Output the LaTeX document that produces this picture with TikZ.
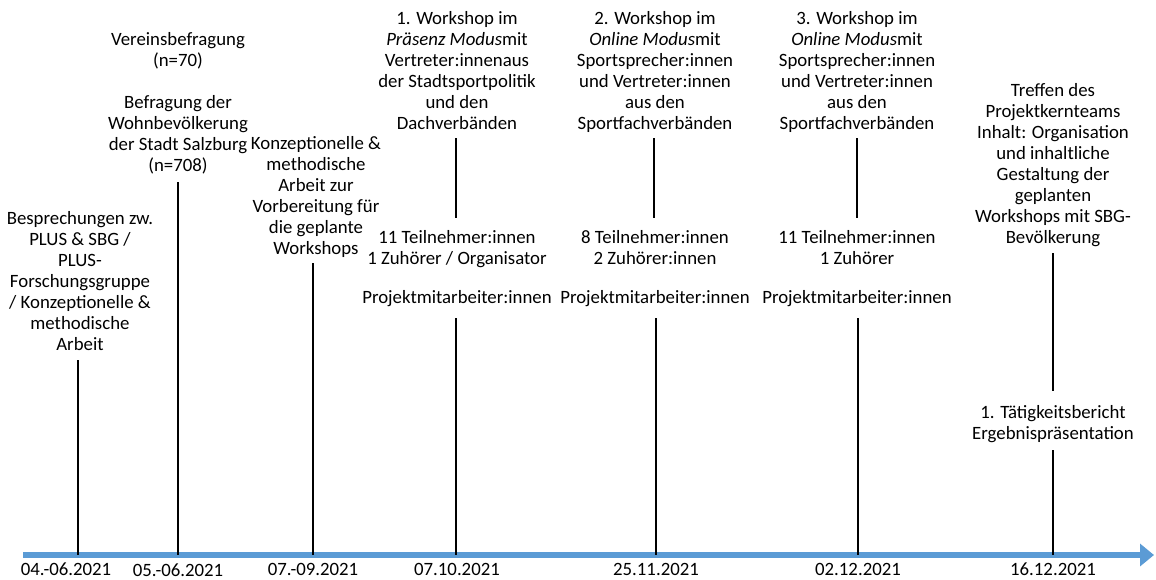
\documentclass[tikz,border=0pt]{standalone}
\usepackage{fontspec}
\setmainfont{Carlito}
\usetikzlibrary{arrows.meta}
\definecolor{axisblue}{HTML}{5B9BD5}
\begin{document}
\begin{tikzpicture}[x=1pt,y=-1pt,
  txt/.style={align=center, inner sep=0pt, font=\fontsize{18.8}{21}\selectfont, anchor=base},
  datelabel/.style={inner sep=0pt, font=\fontsize{18.8}{21}\selectfont, anchor=base},
  tick/.style={line width=2pt, black},
  timeaxis/.style={line width=6pt, axisblue, -{Triangle[length=14pt,width=22pt]}}]
\useasboundingbox (0,0) rectangle (1156,579);

% axis
\coordinate (ax0) at (23,555);
\coordinate (ax1) at (1154,555);
\draw[timeaxis] (ax0) -- (ax1);

% event 1
\node[txt] (e1) at (80,350) {Besprechungen zw.\\PLUS \& SBG /\\PLUS-\\Forschungsgruppe\\/ Konzeptionelle \&\\methodische\\Arbeit};
\coordinate (e1t) at (78,360);
\coordinate (e1a) at (78,555);
\draw[tick] (e1t) -- (e1a);
\node[datelabel] (d1) at (66,575.5) {04.-06.2021};

% event 2
\node[txt] (e2a) at (178,66) {Vereinsbefragung\\(n=70)};
\node[txt] (e2b) at (178,171) {Befragung der\\Wohnbevölkerung\\der Stadt Salzburg\\(n=708)};
\coordinate (e2t) at (178,182);
\coordinate (e2a) at (178,555);
\draw[tick] (e2t) -- (e2a);
\node[datelabel] (d2) at (178,576.5) {05.-06.2021};

% event 3
\node[txt] (e3) at (316,254) {Konzeptionelle \&\\methodische\\Arbeit zur\\Vorbereitung für\\die geplante\\Workshops};
\coordinate (e3t) at (313,263);
\coordinate (e3a) at (313,555);
\draw[tick] (e3t) -- (e3a);
\node[datelabel] (d3) at (313,575.5) {07.-09.2021};

% workshop 1
\node[txt] (w1) at (457,129) {1. Workshop im\\\textit{Präsenz Modus}mit\\Vertreter:innenaus\\der Stadtsportpolitik\\und den\\Dachverbänden};
\coordinate (w1t) at (456,138);
\coordinate (w1m) at (456,218);
\draw[tick] (w1t) -- (w1m);
\node[txt] (w1n) at (457,264) {11 Teilnehmer:innen\\1 Zuhörer / Organisator};
\node[txt] (w1p) at (457,303) {Projektmitarbeiter:innen};
\coordinate (w1b) at (456,318);
\coordinate (w1a) at (456,555);
\draw[tick] (w1b) -- (w1a);
\node[datelabel] (d4) at (457,575.5) {07.10.2021};

% workshop 2
\node[txt] (w2) at (655,129) {2. Workshop im\\\textit{Online Modus}mit\\Sportsprecher:innen\\und Vertreter:innen\\aus den\\Sportfachverbänden};
\coordinate (w2t) at (654,138);
\coordinate (w2m) at (654,218);
\draw[tick] (w2t) -- (w2m);
\node[txt] (w2n) at (655,264) {8 Teilnehmer:innen\\2 Zuhörer:innen};
\node[txt] (w2p) at (655,303) {Projektmitarbeiter:innen};
\coordinate (w2b) at (656,318);
\coordinate (w2a) at (656,555);
\draw[tick] (w2b) -- (w2a);
\node[datelabel] (d5) at (656,575.5) {25.11.2021};

% workshop 3
\node[txt] (w3) at (857,129) {3. Workshop im\\\textit{Online Modus}mit\\Sportsprecher:innen\\und Vertreter:innen\\aus den\\Sportfachverbänden};
\coordinate (w3t) at (857,138);
\coordinate (w3m) at (857,218);
\draw[tick] (w3t) -- (w3m);
\node[txt] (w3n) at (857,264) {11 Teilnehmer:innen\\1 Zuhörer};
\node[txt] (w3p) at (857,303) {Projektmitarbeiter:innen};
\coordinate (w3b) at (858,318);
\coordinate (w3a) at (858,555);
\draw[tick] (w3b) -- (w3a);
\node[datelabel] (d6) at (858,575.5) {02.12.2021};

% meeting
\node[txt] (m) at (1053,243) {Treffen des\\Projektkernteams\\Inhalt: Organisation\\und inhaltliche\\Gestaltung der\\geplanten\\Workshops mit SBG-\\Bevölkerung};
\coordinate (mt) at (1053,253);
\coordinate (mm) at (1053,391);
\draw[tick] (mt) -- (mm);
\node[txt] (r) at (1053,439) {1. Tätigkeitsbericht\\Ergebnispräsentation};
\coordinate (rb) at (1053,450);
\coordinate (ra) at (1053,555);
\draw[tick] (rb) -- (ra);
\node[datelabel] (d7) at (1053,575.5) {16.12.2021};
\end{tikzpicture}
\end{document}
